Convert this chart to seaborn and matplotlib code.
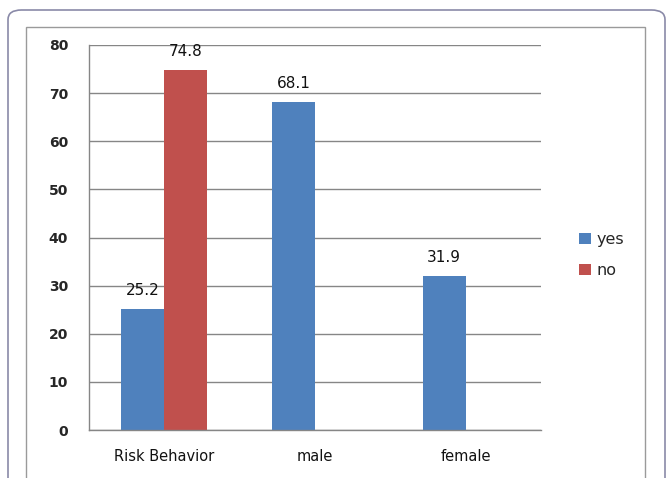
import numpy as np
import pandas as pd
import matplotlib
matplotlib.use("Agg")
import matplotlib.pyplot as plt
from matplotlib.patches import FancyBboxPatch, Rectangle
import seaborn as sns

categories = ["Risk Behavior", "male", "female"]
yes_values = [25.2, 68.1, 31.9]
no_values = [74.8, np.nan, np.nan]
series_names = ["yes", "no"]
y_ticks = [0, 10, 20, 30, 40, 50, 60, 70, 80]

palette = {"yes": "#4F81BD", "no": "#C0504D"}

df = pd.DataFrame({
    "category": categories * 2,
    "series": [series_names[0]] * 3 + [series_names[1]] * 3,
    "value": yes_values + no_values,
})

sns.set_style("white")
plt.rcParams["font.family"] = ["DejaVu Sans"]

fig = plt.figure(figsize=(6.69, 4.78), dpi=100)

# outer rounded frame and inner chart frame
fig.patches.append(FancyBboxPatch((8 / 669, -0.05), 657 / 669, 1 - 10 / 478 + 0.05,
                                  boxstyle="round,pad=0,rounding_size=0.02",
                                  transform=fig.transFigure, fill=False,
                                  edgecolor="#8a8aa8", linewidth=1.2))
fig.patches.append(Rectangle((26 / 669, -0.05), 619 / 669, 1 - 27 / 478 + 0.05,
                             transform=fig.transFigure, fill=False,
                             edgecolor="#9a9a9a", linewidth=1.0))

ax = fig.add_axes([89 / 669, 1 - 430 / 478, (541 - 89) / 669, (430 - 45) / 478])

sns.barplot(data=df, x="category", y="value", hue="series", order=categories,
            hue_order=series_names, palette=palette, width=0.57, saturation=1,
            linewidth=0, ax=ax, legend=True)

for container in ax.containers:
    labels = [f"{v:.1f}" if not np.isnan(v) else "" for v in container.datavalues]
    ax.bar_label(container, labels=labels, padding=8, fontsize=11, color="#111111")

ax.set_ylim(0, 80)
ax.set_xlim(-0.5, 2.5)
ax.set_yticks(y_ticks)
ax.set_xlabel("")
ax.set_ylabel("")
ax.yaxis.grid(True, color="#868686", linewidth=1.0)
ax.set_axisbelow(True)
for side in ["top", "right"]:
    ax.spines[side].set_visible(False)
ax.spines["left"].set_color("#868686")
ax.spines["bottom"].set_color("#868686")
ax.spines["left"].set_linewidth(1.0)
ax.spines["bottom"].set_linewidth(1.0)

ax.tick_params(axis="y", which="both", length=7, color="#868686", direction="out",
               labelsize=10, pad=8)
for lbl in ax.get_yticklabels():
    lbl.set_fontweight("bold")
ax.set_xticks([0, 1, 2])
ax.set_xticklabels(categories, fontsize=10.5, fontweight="medium", color="#111111")
ax.tick_params(axis="x", which="major", length=0, pad=14)
ax.set_xticks([-0.5, 0.5, 1.5, 2.5], minor=True)
ax.tick_params(axis="x", which="minor", length=5, color="#868686", direction="out")

handles, labels = ax.get_legend_handles_labels()
ax.legend(handles, labels, loc="center left", bbox_to_anchor=(565 / 669, 1 - 255 / 478),
          bbox_transform=fig.transFigure, frameon=False, fontsize=11.5,
          handlelength=0.75, handleheight=0.75, handletextpad=0.35, labelspacing=1.0)

fig.savefig("out.png", dpi=100)
